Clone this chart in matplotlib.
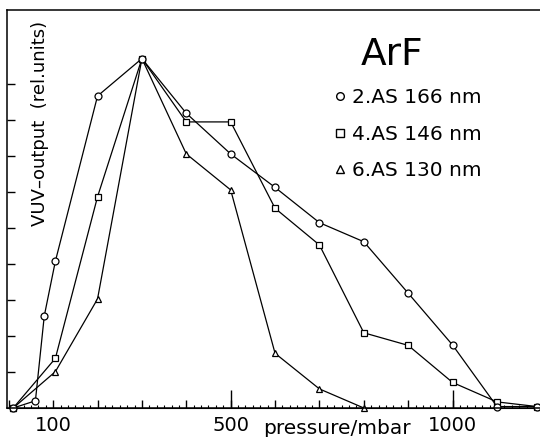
import matplotlib
matplotlib.use("Agg")
import matplotlib.pyplot as plt
from matplotlib.lines import Line2D
from matplotlib.ticker import MultipleLocator, FixedLocator, FuncFormatter

# pressure (mbar) and VUV output (rel. units)
p_as2 = [10, 60, 80, 105, 200, 300, 400, 500, 600, 700, 800, 900, 1000, 1100, 1190]
vuv_as2 = [0, 0.2, 2.56, 4.08, 8.67, 9.71, 8.19, 7.06, 6.13, 5.15, 4.62, 3.19, 1.75, 0.04, 0.04]

p_as4 = [10, 105, 200, 300, 400, 500, 600, 700, 800, 900, 1000, 1100, 1190]
vuv_as4 = [0, 1.38, 5.87, 9.71, 7.95, 7.95, 5.55, 4.53, 2.09, 1.74, 0.71, 0.17, 0.04]

p_as6 = [10, 105, 200, 300, 400, 500, 600, 700, 800]
vuv_as6 = [0, 1.01, 3.03, 9.71, 7.06, 6.06, 1.52, 0.53, 0]

labels = ["2.AS 166 nm", "4.AS 146 nm", "6.AS 130 nm"]
markers = ["o", "s", "^"]
xtick_labels = {100: "100", 500: "500", 1000: "1000"}

plt.rcParams["font.family"] = "DejaVu Sans"

fig = plt.figure(figsize=(5.4, 4.37), dpi=100)
ax = fig.add_axes([7 / 540, 29 / 437, 533 / 540, 398 / 437])

series = [(p_as2, vuv_as2), (p_as4, vuv_as4), (p_as6, vuv_as6)]
# draw 6.AS first so the circles end up on top at the right end
for (p, v), m in reversed(list(zip(series, markers))):
    ax.plot(p, v, color="black", lw=0.9, marker=m, ms=5, mfc="white",
            mec="black", mew=0.9, clip_on=False)

ax.set_xlim(-4, 1197)
ax.set_ylim(0, 11.06)

ax.spines["right"].set_visible(False)
for s in ["left", "bottom", "top"]:
    ax.spines[s].set_linewidth(1.1)

ax.xaxis.set_major_locator(MultipleLocator(100))
ax.xaxis.set_minor_locator(MultipleLocator(100 / 6))
ax.xaxis.set_major_formatter(FuncFormatter(lambda v, pos: xtick_labels.get(int(round(v)), "")))
ax.tick_params(axis="x", which="major", direction="in", length=5.5, width=1, pad=6, labelsize=14)
ax.tick_params(axis="x", which="minor", direction="in", length=2.5, width=0.8)

ax.yaxis.set_major_locator(FixedLocator(range(1, 10)))
ax.tick_params(axis="y", direction="in", length=6, width=1, labelleft=False)

# long ticks at 500 and 1000
sec = ax.secondary_xaxis("bottom")
sec.set_xticks([500, 1000])
sec.tick_params(direction="in", length=13, width=1, labelbottom=False)

ax.text(740, -0.0653, "pressure/mbar", transform=ax.get_xaxis_transform(),
        ha="center", va="baseline", fontsize=14.5)

ax.text(33 / 533, 0.715, "VUV\u2013output  (rel.units)", transform=ax.transAxes,
        rotation=90, ha="center", va="center", fontsize=13)

ax.text(0.722, 0.862, "ArF", transform=ax.transAxes, ha="center", va="baseline",
        fontsize=27)

handles = [Line2D([], [], ls="none", marker=m, ms=5.5, mfc="white", mec="black", mew=1)
           for m in markers]
ax.legend(handles, labels, loc="upper left", bbox_to_anchor=(0.625, 0.803),
          frameon=False, handlelength=0, handletextpad=0.6, borderpad=0,
          borderaxespad=0, labelspacing=0.86, fontsize=14.5)

fig.savefig("out.png", dpi=100)
